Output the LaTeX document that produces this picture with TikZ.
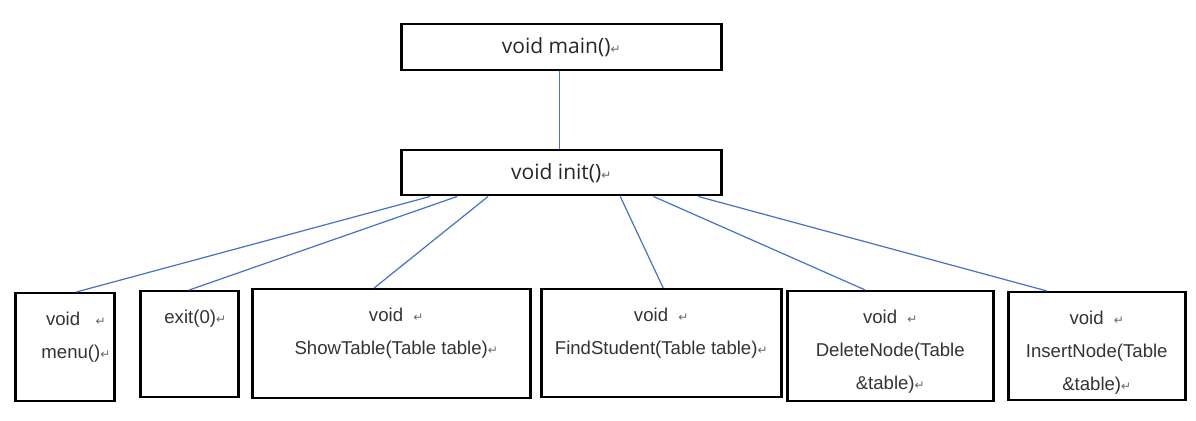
\documentclass[tikz,border=0pt]{standalone}
\usepackage{fontspec}
\usepackage{xcolor}
\setmainfont{Liberation Sans}
\newfontfamily\topfont{Open Sans}
\newfontfamily\symfont{DejaVu Sans}
\usetikzlibrary{positioning,calc}
\definecolor{linkblue}{HTML}{4472C4}
\newcommand\retmark[0]{{\symfont\fontsize{6}{6}\selectfont\color{gray!80!black}↵}}

\tikzset{
  funcbox/.style={draw=black, line width=1.25pt, rectangle, anchor=north west, inner sep=0pt},
  topbox/.style={funcbox, font=\topfont\fontsize{10.5}{12}\selectfont, text=black!85},
  functext/.style={anchor=north, inner sep=0pt, align=center, text=black!80,
    font=\fontsize{9.3}{16.5}\selectfont},
  link/.style={draw=linkblue, line width=0.6pt}
}

\begin{document}
\begin{tikzpicture}[x=0.5pt, y=-0.5pt]
  \useasboundingbox (0,0) rectangle (1196,421);

  % top of the call tree
  \node[topbox, minimum width=160pt, minimum height=23pt] (main) at (400,23) {void main()\retmark};
  \node[topbox, minimum width=160pt, minimum height=22.5pt] (init) at (400,149) {void init()\retmark};

  % functions called from init
  \node[funcbox, minimum width=49.5pt, minimum height=54pt] (menu) at (14,292) {};
  \node[funcbox, minimum width=49pt, minimum height=53pt] (exit) at (139,290) {};
  \node[funcbox, minimum width=139pt, minimum height=54.5pt] (showtab) at (251,288) {};
  \node[funcbox, minimum width=120pt, minimum height=54pt] (findstu) at (540,288) {};
  \node[funcbox, minimum width=103pt, minimum height=55pt] (delnode) at (786,290) {};
  \node[funcbox, minimum width=88.5pt, minimum height=54pt] (insnode) at (1007,291) {};

  \node[functext, yshift=-10pt] (menutxt) at ($(menu.north)+(6,0)$) {~~void~~~\retmark\\ ~~menu()\retmark};
  \node[functext, yshift=-10pt] (exittxt) at ($(exit.north)+(6,0)$) {exit(0)\retmark};
  \node[functext, yshift=-10pt] (showtxt) at ($(showtab.north)+(5,0)$) {void~~\retmark\\ ShowTable(Table table)\retmark};
  \node[functext, yshift=-10pt] (findtxt) at (findstu.north) {void~~\retmark\\ FindStudent(Table table)\retmark};
  \node[functext, yshift=-10pt] (deltxt) at (delnode.north) {void~~\retmark\\ DeleteNode(Table\\ \&table)\retmark};
  \node[functext, yshift=-10pt] (instxt) at (insnode.north) {void~~\retmark\\ InsertNode(Table\\ \&table)\retmark};

  % connectors
  \draw[link] ($(main.south west)!0.4953!(main.south east)$) -- ($(init.north west)!0.4953!(init.north east)$);
  \draw[link] ($(init.south west)!0.093!(init.south east)$) -- ($(menu.north west)!0.614!(menu.north east)$);
  \draw[link] ($(init.south west)!0.177!(init.south east)$) -- ($(exit.north west)!0.5!(exit.north east)$);
  \draw[link] ($(init.south west)!0.273!(init.south east)$) -- ($(showtab.north west)!0.439!(showtab.north east)$);
  \draw[link] ($(init.south west)!0.683!(init.south east)$) -- ($(findstu.north west)!0.508!(findstu.north east)$);
  \draw[link] ($(init.south west)!0.786!(init.south east)$) -- ($(delnode.north west)!0.38!(delnode.north east)$);
  \draw[link] ($(init.south west)!0.925!(init.south east)$) -- ($(insnode.north west)!0.223!(insnode.north east)$);
\end{tikzpicture}
\end{document}
